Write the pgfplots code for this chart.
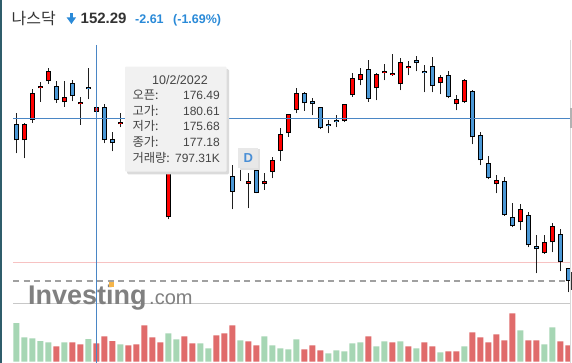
\documentclass[border=0pt]{standalone}
\usepackage{pgfplots}
\pgfplotsset{compat=1.18}
\usepackage{pgfplotstable}
\usepackage{fontspec}
\setmainfont{Liberation Sans}
\newfontfamily\kr{Noto Sans CJK KR}

\definecolor{upred}{HTML}{FF0000}
\definecolor{downblue}{HTML}{4B98D6}
\definecolor{volred}{HTML}{E06B6B}
\definecolor{volgreen}{HTML}{A6D6B4}
\definecolor{gridc}{HTML}{EFEFEF}
\definecolor{cross}{HTML}{4A86C5}
\definecolor{prevc}{HTML}{F7C2C2}
\definecolor{dashc}{HTML}{A0A0A0}
\definecolor{sepc}{HTML}{C8C8C8}
\definecolor{hdr}{HTML}{333333}
\definecolor{chg}{HTML}{2A8AD8}
\definecolor{tipbg}{HTML}{F1F1F1}
\definecolor{tiptext}{HTML}{444444}
\definecolor{leftb}{HTML}{2F5D6B}
\definecolor{wm}{HTML}{808080}
\definecolor{wmorange}{HTML}{F5B54A}
\definecolor{dblue}{HTML}{4A8FD6}

% daily OHLC, rising candles (close > open)
\pgfplotstableread{
i o h l c
1 172.39 174.80 169.81 174.67
2 175.33 179.67 174.90 179.10
3 179.81 180.67 177.90 180.10
4 180.81 182.67 180.47 182.24
6 177.81 180.81 177.19 178.53
8 177.53 178.53 174.61 177.86
10 176.49 180.61 175.68 177.18
13 174.67 176.24 174.24 175.00
16 171.00 172.71 169.86 172.14
19 161.39 169.57 161.10 168.71
20 168.71 171.71 168.14 171.00
22 169.86 172.71 169.29 171.71
25 168.86 170.71 168.29 169.86
29 166.19 167.67 162.67 166.53
31 166.10 167.76 165.29 166.53
32 167.90 170.04 166.96 169.53
33 170.86 174.10 169.47 173.24
34 173.39 176.20 172.90 176.10
35 176.67 179.81 176.24 179.10
41 175.10 177.60 175.00 177.53
42 178.81 181.96 178.61 181.24
43 180.96 182.67 180.24 181.81
45 179.81 181.96 178.10 181.81
46 181.96 183.24 180.96 182.24
47 181.67 184.67 181.60 181.96
48 180.39 184.10 179.53 183.53
49 182.67 183.67 181.67 182.96
53 180.53 181.67 178.96 181.39
55 177.53 178.81 176.67 178.24
56 177.81 181.10 177.70 180.96
60 166.10 167.39 164.81 166.67
63 160.67 163.24 159.53 162.53
66 156.24 158.81 156.20 157.81
67 157.81 160.53 156.39 160.10
}\upc

% daily OHLC, falling candles (close < open)
\pgfplotstableread{
i o h l c
0 174.67 176.24 170.53 172.39
5 180.10 180.81 177.76 178.10
7 180.53 180.96 177.96 178.67
9 179.96 182.67 178.24 179.67
11 177.10 177.53 171.96 172.39
12 172.53 173.53 170.81 171.96
14 174.71 175.29 172.43 173.14
15 173.14 173.86 170.29 171.00
17 172.00 172.43 168.86 169.57
18 169.86 171.00 167.79 168.43
21 171.00 172.43 169.14 169.86
23 171.71 172.43 169.57 170.29
24 170.29 171.00 168.43 168.86
26 169.86 170.29 168.14 168.43
27 167.29 168.86 162.53 165.04
28 169.57 170.29 166.61 168.47
30 168.10 168.53 164.81 164.90
36 179.10 179.33 176.61 177.67
37 177.96 178.43 175.96 177.53
38 177.10 177.20 174.00 174.10
39 174.67 175.24 173.39 174.39
40 175.24 175.96 174.24 174.96
44 182.53 183.86 177.90 178.24
50 183.81 184.39 182.24 183.39
51 182.24 183.10 179.24 181.96
52 182.96 184.24 179.24 180.10
54 181.67 182.24 178.39 178.53
57 179.39 179.50 171.81 172.81
58 173.10 173.53 168.81 169.53
59 169.10 170.10 166.81 166.96
61 166.53 167.10 161.60 161.67
62 161.39 163.39 159.96 160.10
64 161.67 162.10 157.10 157.39
65 157.24 158.81 153.39 156.81
68 158.96 159.67 153.67 154.96
69 154.10 154.20 150.67 152.29
}\downc

% volume (thousands), green bars
\pgfplotstableread{
i v
0 1676
1 1057
2 1013
3 896
4 840
6 840
9 983
13 753
19 1230
20 970
23 797
24 580
28 927
31 1100
32 710
33 580
34 537
35 970
39 364
40 494
41 450
42 797
43 840
45 667
46 883
48 883
50 580
53 407
56 667
63 1360
66 753
67 1490
}\volg

% volume (thousands), red bars
\pgfplotstableread{
i v
5 667
7 840
8 753
10 797
11 1100
12 896
14 710
15 753
16 1576
17 1057
18 840
21 1100
22 797
25 1143
26 1230
27 1576
29 883
30 710
36 537
37 710
38 494
44 1100
47 840
49 667
51 840
52 667
54 450
55 450
57 1273
58 1057
59 840
60 1186
61 927
62 2096
64 927
65 927
68 883
69 710
}\volr

\pgfplotsset{
  bars/.style={draw=none, mark=none,
    error bars/.cd, y dir=plus, y explicit, error mark=none,
    error bar style={line cap=butt, #1}},
}

\begin{document}
\begin{tikzpicture}
\fill[white] (0pt,0pt) rectangle (572pt,-363pt);

\begin{axis}[
  at={(13pt,-303pt)}, anchor=south west, scale only axis,
  width=557pt, height=258pt,
  xmin=-0.4125, xmax=69.2125, ymin=149.143, ymax=186.0,
  axis lines=none, major tick length=0pt,
  xtick={2.525,8.96,21.525,27.875,34.9,44.425,50.71,57.75,64.34},
  ytick={155,160,165,170,175,180,185},
  xticklabels={}, yticklabels={},
  grid=major, major grid style={draw=gridc, line width=1pt},
]
\addplot[prevc, line width=1.3pt, forget plot] coordinates {(-0.4125,154.93) (69.2125,154.93)};
\addplot[dashc, line width=2pt, dash pattern=on 6pt off 4.5pt, forget plot] coordinates {(-0.4125,152.29) (69.2125,152.29)};
% wicks
\addplot[bars={draw=black!88, line width=0.9pt}] table[x=i, y=l, y error expr=\thisrow{h}-\thisrow{l}] {\upc};
\addplot[bars={draw=black!88, line width=0.9pt}] table[x=i, y=l, y error expr=\thisrow{h}-\thisrow{l}] {\downc};
% body outlines
\addplot[bars={draw=black, line width=5pt}] table[x=i, y=o, y error expr=\thisrow{c}-\thisrow{o}] {\upc};
\addplot[bars={draw=black, line width=5pt}] table[x=i, y=c, y error expr=\thisrow{o}-\thisrow{c}] {\downc};
% body fills
\addplot[bars={draw=upred, line width=3.2pt}] table[x=i, y expr=\thisrow{o}+0.13, y error expr=\thisrow{c}-\thisrow{o}-0.26] {\upc};
\addplot[bars={draw=downblue, line width=3.2pt}] table[x=i, y expr=\thisrow{c}+0.13, y error expr=\thisrow{o}-\thisrow{c}-0.26] {\downc};
\end{axis}

\begin{axis}[
  at={(13pt,-363pt)}, anchor=south west, scale only axis,
  width=557pt, height=60pt,
  xmin=-0.4125, xmax=69.2125, ymin=-56.3, ymax=2543.5,
  axis lines=none, major tick length=0pt,
  xtick={2.525,8.96,21.525,27.875,34.9,44.425,50.71,57.75,64.34},
  ytick=\empty, xticklabels={},
  xmajorgrids, major grid style={draw=gridc, line width=1pt},
]
\addplot[ybar, bar width=6pt, bar shift=0pt, fill=volgreen, draw=none] table[x=i,y=v] {\volg};
\addplot[ybar, bar width=6pt, bar shift=0pt, fill=volred, draw=none] table[x=i,y=v] {\volr};
\end{axis}

\draw[sepc, line width=1pt] (13pt,-303pt) -- (570pt,-303pt);

% watermark
\node[anchor=base west, inner sep=0pt, text=wm, font=\bfseries\fontsize{27}{28}\selectfont] at (28pt,-304pt) {Investing};
\node[anchor=base west, inner sep=0pt, text=wm, font=\fontsize{20}{22}\selectfont] at (149pt,-304pt) {.com};
\fill[wmorange] (108.5pt,-282pt) rectangle (114pt,-287pt);

% crosshair
\draw[cross, line width=1pt] (96.3pt,-45pt) -- (96.3pt,-363pt);
\draw[cross, line width=1pt] (13pt,-118.3pt) -- (570pt,-118.3pt);

% right edge
\draw[black!15, line width=1pt] (570pt,-40pt) -- (570pt,-363pt);
\fill[black!30] (569.5pt,-108pt) rectangle (572pt,-128pt);
\fill[black!80] (570.5pt,-272pt) rectangle (572pt,-290pt);

% left border
\fill[leftb] (0pt,0pt) rectangle (2pt,-363pt);

% tooltip
\fill[black!14, rounded corners=1.5pt] (127pt,-69pt) rectangle (229pt,-174.5pt);
\fill[tipbg, rounded corners=1pt] (125pt,-66.7pt) rectangle (226.5pt,-171.7pt);
\begin{scope}[every node/.style={inner sep=0pt, text=tiptext}]
\node[anchor=base, font=\fontsize{12.5}{14}\selectfont] at (180pt,-84.3pt) {10/2/2022};
\node[anchor=base west, font=\kr\fontsize{12.3}{14}\selectfont] at (132.3pt,-99.5pt) {오픈:};
\node[anchor=base west, font=\kr\fontsize{12.3}{14}\selectfont] at (132.3pt,-115.2pt) {고가:};
\node[anchor=base west, font=\kr\fontsize{12.3}{14}\selectfont] at (132.3pt,-130.9pt) {저가:};
\node[anchor=base west, font=\kr\fontsize{12.3}{14}\selectfont] at (132.3pt,-146.6pt) {종가:};
\node[anchor=base west, font=\kr\fontsize{12.3}{14}\selectfont] at (132.3pt,-162.3pt) {거래량:};
\node[anchor=base east, font=\fontsize{12}{14}\selectfont] at (220pt,-99.5pt) {176.49};
\node[anchor=base east, font=\fontsize{12}{14}\selectfont] at (220pt,-115.2pt) {180.61};
\node[anchor=base east, font=\fontsize{12}{14}\selectfont] at (220pt,-130.9pt) {175.68};
\node[anchor=base east, font=\fontsize{12}{14}\selectfont] at (220pt,-146.6pt) {177.18};
\node[anchor=base east, font=\fontsize{12}{14}\selectfont] at (220pt,-162.3pt) {797.31K};
\end{scope}

% D marker
\fill[black!12] (239.5pt,-149.5pt) rectangle (260pt,-170pt);
\fill[black!9] (238.3pt,-148.3pt) rectangle (258.3pt,-168.3pt);
\node[inner sep=0pt, text=dblue, font=\bfseries\fontsize{13}{14}\selectfont] at (248.3pt,-158.3pt) {D};

% header
\node[anchor=base west, inner sep=0pt, text=hdr, font=\kr\fontsize{16}{18}\selectfont] at (11.5pt,-24.5pt) {나스닥};
\fill[chg] (69.6pt,-13pt) rectangle (73.2pt,-18pt);
\fill[chg] (66.7pt,-17.5pt) -- (76pt,-17.5pt) -- (71.4pt,-24pt) -- cycle;
\node[anchor=base west, inner sep=0pt, text=hdr, font=\bfseries\fontsize{15}{18}\selectfont] at (80.5pt,-24pt) {152.29};
\node[anchor=base west, inner sep=0pt, text=chg, font=\bfseries\fontsize{12.5}{15}\selectfont] at (135pt,-24pt) {-2.61};
\node[anchor=base west, inner sep=0pt, text=chg, font=\bfseries\fontsize{12.5}{15}\selectfont] at (173pt,-24pt) {(-1.69\%)};

\pgfresetboundingbox
\path[use as bounding box] (0pt,0pt) rectangle (572pt,-363pt);
\end{tikzpicture}
\end{document}
